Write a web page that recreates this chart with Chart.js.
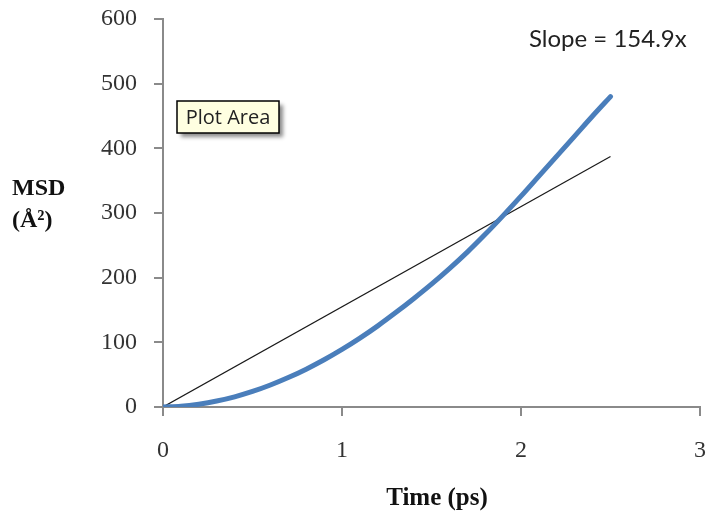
<!DOCTYPE html>
<html>
<head>
<meta charset="utf-8">
<script src="https://cdn.jsdelivr.net/npm/chart.js@4.4.1/dist/chart.umd.min.js"></script>
<style>
html,body{margin:0;padding:0;background:#fff;}
#wrap{position:relative;width:706px;height:514px;}
</style>
</head>
<body>
<div id="wrap"><canvas id="c"></canvas></div>
<script>
// ---- data ----
const timePs = [0,0.1,0.2,0.3,0.4,0.5,0.6,0.7,0.8,0.9,1.0,1.1,1.2,1.3,1.4,1.5,1.6,1.7,1.8,1.9,2.0,2.1,2.2,2.3,2.4,2.5];
const msd    = [0,1.2,4.4,9.2,15.7,24,34,45.5,58.5,73,89,106.5,125.5,146,167.5,190,214,239.5,267,296,326,357,388,419,450,480];
const fitTime = [0, 2.5];
const fitMsd  = [0, 387.3];
const xTicks = [0,1,2,3];
const yTicks = [0,100,200,300,400,500,600];
const slopeLabel = 'Slope = 154.9x';
const xTitle = 'Time (ps)';
const yTitleLines = ['MSD', '(Å²)'];
const tipLabel = 'Plot Area';

const toPts = (xs, ys) => xs.map((x, i) => ({x: x, y: ys[i]}));

const textPlugin = {
  id: 'texts',
  afterDraw(chart) {
    const ctx = chart.ctx;
    ctx.save();
    // y title
    ctx.fillStyle = '#111';
    ctx.font = 'bold 24px "Liberation Serif"';
    ctx.textAlign = 'left';
    ctx.textBaseline = 'alphabetic';
    ctx.fillText(yTitleLines[0], 12, 195);
    ctx.fillText(yTitleLines[1], 12, 227);
    // x title
    ctx.font = 'bold 25px "Liberation Serif"';
    ctx.textAlign = 'center';
    ctx.fillText(xTitle, 437, 505);
    // slope label
    ctx.fillStyle = '#222';
    ctx.font = '24px Lato';
    ctx.textAlign = 'left';
    ctx.fillText(slopeLabel, 529, 47);
    // tooltip "Plot Area"
    const bx = 177, by = 101, bw = 102, bh = 32;
    ctx.save();
    ctx.shadowColor = 'rgba(0,0,0,0.45)';
    ctx.shadowBlur = 4;
    ctx.shadowOffsetX = 4;
    ctx.shadowOffsetY = 4;
    ctx.fillStyle = '#FFFFE1';
    ctx.fillRect(bx, by, bw, bh);
    ctx.restore();
    ctx.strokeStyle = '#000';
    ctx.lineWidth = 1.5;
    ctx.strokeRect(bx, by, bw, bh);
    ctx.fillStyle = '#222';
    ctx.font = '20px "Open Sans"';
    ctx.textAlign = 'center';
    ctx.textBaseline = 'middle';
    ctx.fillText(tipLabel, bx + bw / 2, by + bh / 2 + 1);
    ctx.restore();
  }
};

new Chart(document.getElementById('c'), {
  type: 'scatter',
  data: {
    datasets: [
      {
        data: toPts(timePs, msd),
        showLine: true,
        borderColor: '#4A7EBB',
        borderWidth: 5,
        borderCapStyle: 'round',
        pointRadius: 0,
        cubicInterpolationMode: 'monotone'
      },
      {
        data: toPts(fitTime, fitMsd),
        showLine: true,
        borderColor: '#1a1a1a',
        borderWidth: 1.2,
        pointRadius: 0
      }
    ]
  },
  plugins: [textPlugin],
  options: {
    responsive: true,
    maintainAspectRatio: false,
    animation: false,
    events: [],
    layout: {padding: {top: 19, right: 6, left: 0, bottom: 0}},
    plugins: {legend: {display: false}, tooltip: {enabled: false}},
    scales: {
      x: {
        type: 'linear',
        min: xTicks[0], max: xTicks[xTicks.length - 1],
        afterBuildTicks(s) { s.ticks = xTicks.map(v => ({value: v})); },
        afterFit(s) { s.height = 107; s.paddingLeft = 0; s.paddingRight = 0; },
        border: {display: true, color: '#8a8a8a', width: 2},
        grid: {display: true, drawOnChartArea: false, drawTicks: true, tickLength: 9, color: '#8a8a8a', lineWidth: 2},
        ticks: {color: '#333', font: {family: '"Liberation Serif"', size: 24}, padding: 20, maxRotation: 0}
      },
      y: {
        type: 'linear',
        min: yTicks[0], max: yTicks[yTicks.length - 1],
        afterBuildTicks(s) { s.ticks = yTicks.map(v => ({value: v})); },
        afterFit(s) { s.width = 163; s.paddingTop = 0; s.paddingBottom = 0; },
        border: {display: true, color: '#8a8a8a', width: 2},
        grid: {display: true, drawOnChartArea: false, drawTicks: true, tickLength: 9, color: '#8a8a8a', lineWidth: 2},
        ticks: {color: '#333', font: {family: '"Liberation Serif"', size: 24}, padding: 17}
      }
    }
  }
});
</script>
</body>
</html>
